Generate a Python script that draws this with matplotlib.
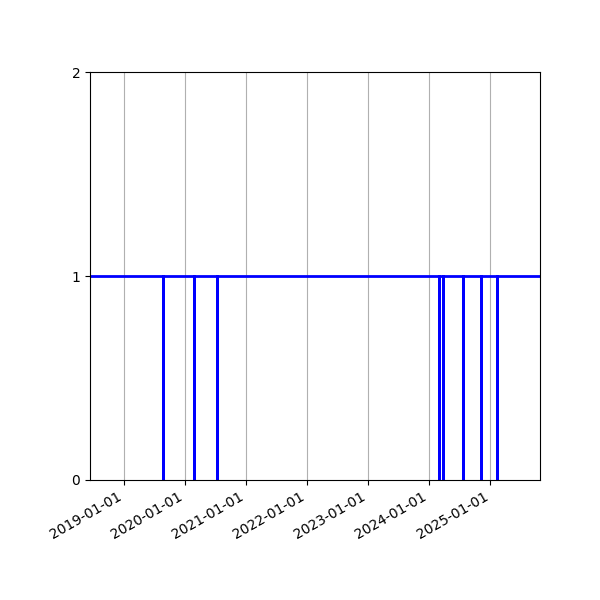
import matplotlib
matplotlib.use("Agg")
import matplotlib.pyplot as plt
import matplotlib.dates as mdates
import numpy as np

# dates where the signal falls to 0 and where it comes back to 1
drop_start = ["2019-08-22", "2020-02-24", "2020-07-10", "2024-02-28",
              "2024-03-24", "2024-07-21", "2024-11-05", "2025-02-11"]
drop_end = ["2019-08-23", "2020-02-25", "2020-07-11", "2024-02-29",
            "2024-03-25", "2024-07-24", "2024-11-06", "2025-02-12"]
first_day = "2018-06-12"
last_day = "2025-10-25"

dates = [np.datetime64(first_day)]
values = [1]
for s, e in zip(drop_start, drop_end):
    dates += [np.datetime64(s), np.datetime64(e)]
    values += [0, 1]
dates.append(np.datetime64(last_day))
values.append(1)

fig, ax = plt.subplots(figsize=(6, 6), dpi=100)
ax.step(dates, values, where='post', color='blue', linewidth=2)

ax.set_xlim(np.datetime64(first_day), np.datetime64(last_day))
ax.set_ylim(0, 2)
ax.set_yticks([0, 1, 2])
ax.xaxis.set_major_locator(mdates.YearLocator())
ax.xaxis.set_major_formatter(mdates.DateFormatter('%Y-%m-%d'))
ax.grid(axis='x')
fig.autofmt_xdate()
fig.subplots_adjust(left=0.15, right=0.9, top=0.88, bottom=0.2)

fig.savefig("out.png")
